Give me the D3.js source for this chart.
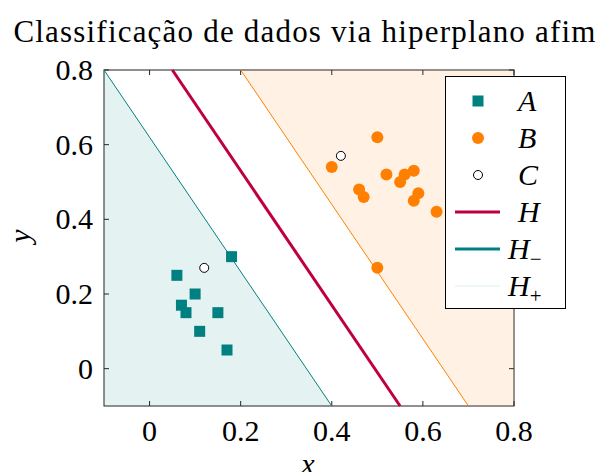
<!DOCTYPE html>
<html>
<head>
<meta charset="utf-8">
<script src="https://cdn.jsdelivr.net/npm/d3@7"></script>
<style>
  body { margin: 0; background: #fff; }
  text { font-family: "Liberation Serif", "DejaVu Serif", serif; fill: #000; }
  .math { font-style: italic; }
</style>
</head>
<body>
<svg id="chart" width="598" height="472"></svg>
<script>
// class A (squares)
const pointsA = [
  [0.18, 0.30], [0.06, 0.25], [0.10, 0.20], [0.07, 0.17],
  [0.08, 0.15], [0.15, 0.15], [0.11, 0.10], [0.17, 0.05]
];
// class B (filled circles)
const pointsB = [
  [0.50, 0.62], [0.40, 0.54], [0.52, 0.52], [0.56, 0.52], [0.58, 0.53],
  [0.55, 0.50], [0.46, 0.48], [0.47, 0.46], [0.59, 0.47], [0.58, 0.45],
  [0.63, 0.42], [0.50, 0.27]
];
// class C (open circles)
const pointsC = [[0.12, 0.27], [0.42, 0.57]];

// hyperplanes  y = slope * x + b
const slope = -1.8;
const hyperplanes = [
  { name: "H", b: 0.89 },
  { name: "H_-", b: 0.62 },
  { name: "H_+", b: 1.16 }
];

const xTicks = [0, 0.2, 0.4, 0.6, 0.8];
const yTicks = [0, 0.2, 0.4, 0.6, 0.8];
const xDomain = [-0.1, 0.8];
const yDomain = [-0.1, 0.8];

const teal = "#008080", orange = "#ff8000", purple = "#bf0040";

const svg = d3.select("#chart");
const m = { left: 104, top: 70, right: 514, bottom: 406 };

const x = d3.scaleLinear().domain(xDomain).range([m.left, m.right]);
const y = d3.scaleLinear().domain(yDomain).range([m.bottom, m.top]);

// axis box
svg.append("rect")
  .attr("x", m.left).attr("y", m.top)
  .attr("width", m.right - m.left).attr("height", m.bottom - m.top)
  .attr("fill", "none").attr("stroke", "#222").attr("stroke-width", 1);

// ticks (inside, all 4 sides)
const tl = 5;
xTicks.forEach(t => {
  svg.append("line").attr("x1", x(t)).attr("x2", x(t)).attr("y1", m.bottom).attr("y2", m.bottom - tl).attr("stroke", "#222");
  svg.append("line").attr("x1", x(t)).attr("x2", x(t)).attr("y1", m.top).attr("y2", m.top + tl).attr("stroke", "#222");
});
yTicks.forEach(t => {
  svg.append("line").attr("y1", y(t)).attr("y2", y(t)).attr("x1", m.left).attr("x2", m.left + tl).attr("stroke", "#222");
  svg.append("line").attr("y1", y(t)).attr("y2", y(t)).attr("x1", m.right).attr("x2", m.right - tl).attr("stroke", "#222");
});

// x where line hits given y
const xAt = (b, yy) => (yy - b) / slope;
const hm = hyperplanes.find(h => h.name === "H_-");
const hp = hyperplanes.find(h => h.name === "H_+");

// shaded half-planes
const teal_poly = [[xDomain[0], yDomain[1]], [xAt(hm.b, yDomain[0]), yDomain[0]], [xDomain[0], yDomain[0]]];
const orange_poly = [[xAt(hp.b, yDomain[1]), yDomain[1]], [xDomain[1], yDomain[1]], [xDomain[1], yDomain[0]], [xAt(hp.b, yDomain[0]), yDomain[0]]];
const poly = d3.line().x(d => x(d[0])).y(d => y(d[1]));
svg.append("path").attr("d", poly(teal_poly) + "Z").attr("fill", teal).attr("fill-opacity", 0.1);
svg.append("path").attr("d", poly(orange_poly) + "Z").attr("fill", orange).attr("fill-opacity", 0.1);

// hyperplane lines, clipped to box
const lineStyle = { "H": [purple, 3], "H_-": [teal, 1], "H_+": [orange, 1] };
hyperplanes.forEach(h => {
  let x0 = Math.max(xDomain[0], xAt(h.b, yDomain[1]));
  let x1 = Math.min(xDomain[1], xAt(h.b, yDomain[0]));
  svg.append("line")
    .attr("x1", x(x0)).attr("y1", y(slope * x0 + h.b))
    .attr("x2", x(x1)).attr("y2", y(slope * x1 + h.b))
    .attr("stroke", lineStyle[h.name][0]).attr("stroke-width", lineStyle[h.name][1]);
});

// points
const sq = 11;
svg.append("g").selectAll("rect").data(pointsA).join("rect")
  .attr("x", d => x(d[0]) - sq / 2).attr("y", d => y(d[1]) - sq / 2)
  .attr("width", sq).attr("height", sq).attr("fill", teal);
svg.append("g").selectAll("circle").data(pointsB).join("circle")
  .attr("cx", d => x(d[0])).attr("cy", d => y(d[1])).attr("r", 6).attr("fill", orange);
svg.append("g").selectAll("circle").data(pointsC).join("circle")
  .attr("cx", d => x(d[0])).attr("cy", d => y(d[1])).attr("r", 4.5)
  .attr("fill", "#fff").attr("stroke", "#000").attr("stroke-width", 1);

// tick labels
const fs = 30;
xTicks.forEach(t => {
  svg.append("text").attr("x", x(t)).attr("y", 441).attr("text-anchor", "middle")
    .attr("font-size", fs).text(t === 0 ? "0" : String(t));
});
yTicks.forEach(t => {
  svg.append("text").attr("x", 93).attr("y", y(t) + 10).attr("text-anchor", "end")
    .attr("font-size", fs).text(t === 0 ? "0" : String(t));
});

// axis labels
svg.append("text").attr("class", "math").attr("x", 308).attr("y", 474)
  .attr("text-anchor", "middle").attr("font-size", fs).text("x");
svg.append("text").attr("class", "math")
  .attr("transform", "translate(30,236) rotate(-90)")
  .attr("text-anchor", "middle").attr("font-size", fs).text("y");

// title
svg.append("text").attr("x", 305).attr("y", 42).attr("text-anchor", "middle")
  .attr("font-size", 31).attr("letter-spacing", 1.2)
  .text("Classificação de dados via hiperplano afim");

// legend
const lg = svg.append("g");
lg.append("rect").attr("x", 445.5).attr("y", 76.5).attr("width", 120).attr("height", 232)
  .attr("fill", "#fff").attr("stroke", "#000").attr("stroke-width", 1);
const legendItems = [
  { label: "A", type: "square" },
  { label: "B", type: "dot" },
  { label: "C", type: "open" },
  { label: "H", type: "line", color: purple, w: 3 },
  { label: "H", sub: "−", type: "line", color: teal, w: 3 },
  { label: "H", sub: "+", type: "line", color: "#dcefee", w: 1 }
];
legendItems.forEach((it, i) => {
  const cy = 101 + i * 37;
  if (it.type === "square") lg.append("rect").attr("x", 478 - sq / 2).attr("y", cy - sq / 2).attr("width", sq).attr("height", sq).attr("fill", teal);
  if (it.type === "dot") lg.append("circle").attr("cx", 478).attr("cy", cy).attr("r", 6).attr("fill", orange);
  if (it.type === "open") lg.append("circle").attr("cx", 478).attr("cy", cy).attr("r", 4.5).attr("fill", "#fff").attr("stroke", "#000");
  if (it.type === "line") lg.append("line").attr("x1", 455).attr("x2", 500).attr("y1", cy).attr("y2", cy).attr("stroke", it.color).attr("stroke-width", it.w);
  const t = lg.append("text").attr("class", "math").attr("x", it.sub ? 508 : 518).attr("y", cy + 10).attr("font-size", fs);
  t.append("tspan").text(it.label);
  if (it.sub) t.append("tspan").attr("dy", 7).attr("font-size", 21).attr("font-style", "normal").text(it.sub);
});
</script>
</body>
</html>
